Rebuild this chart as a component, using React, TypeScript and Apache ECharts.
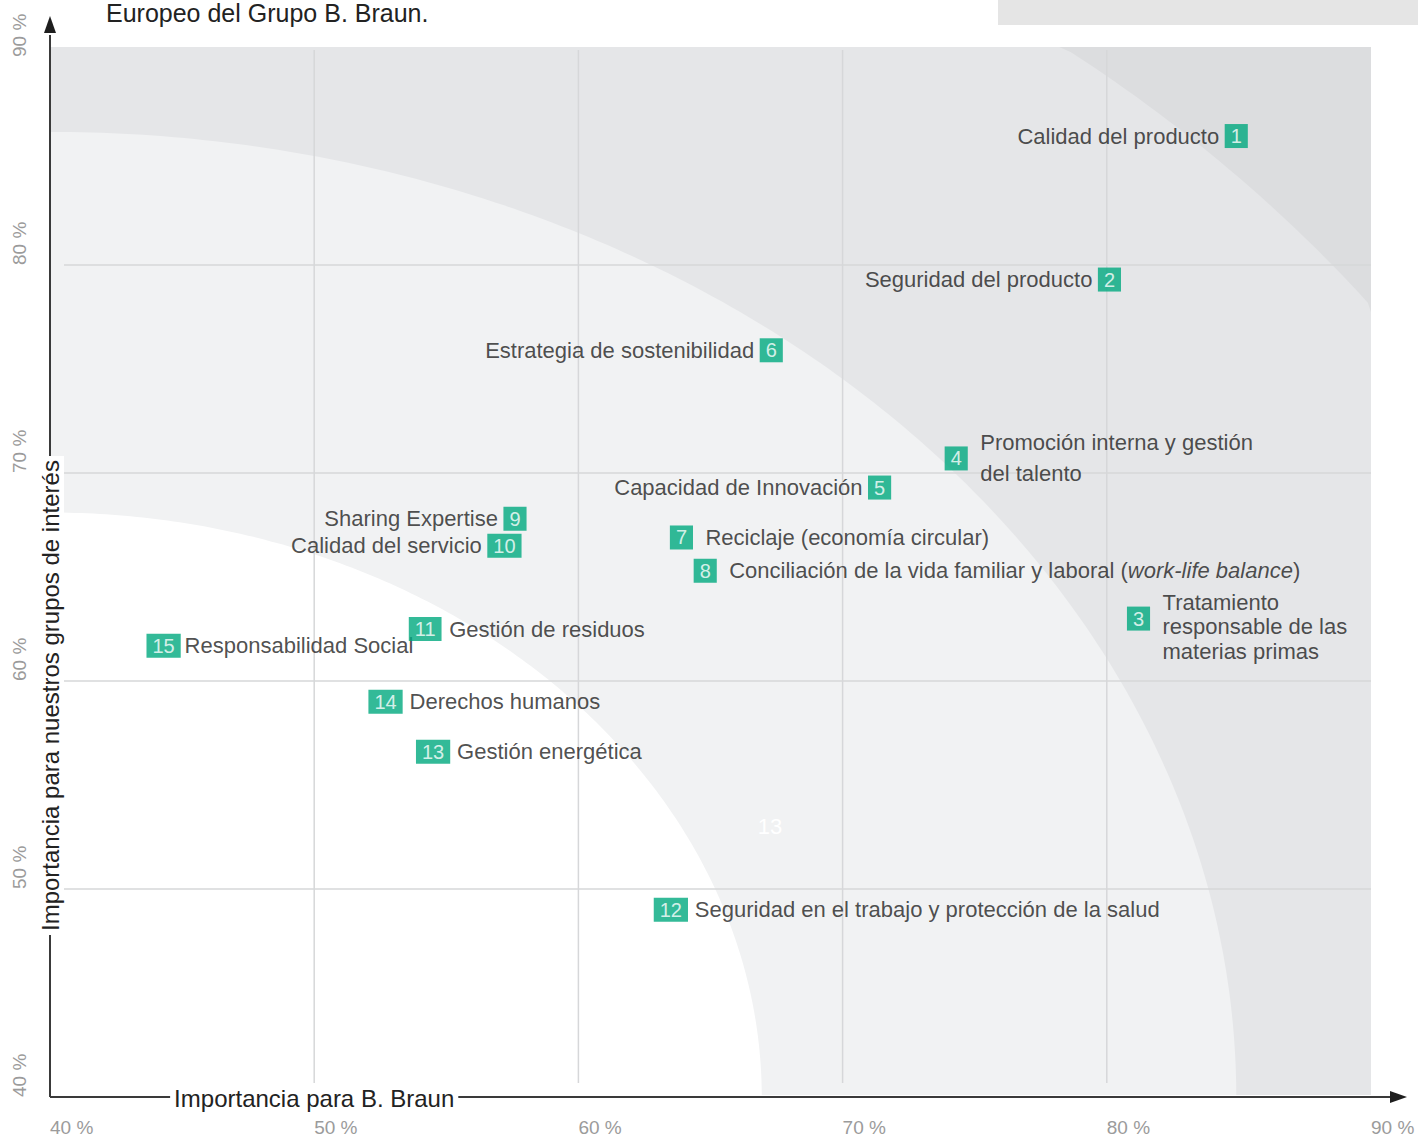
import React, { useEffect, useRef } from 'react';
import * as echarts from 'echarts';

const FONT = '"Liberation Sans", Arial, sans-serif';

// ---- data ----
const ids = ['1', '2', '3', '4', '5', '6', '7', '8', '9', '10', '11', '12', '13', '14', '15'];
const topics = [
  'Calidad del producto',
  'Seguridad del producto',
  'Tratamiento\nresponsable de las\nmaterias primas',
  'Promoción interna y gestión\ndel talento',
  'Capacidad de Innovación',
  'Estrategia de sostenibilidad',
  'Reciclaje (economía circular)',
  'Conciliación de la vida familiar y laboral ({i|work-life balance})',
  'Sharing Expertise',
  'Calidad del servicio',
  'Gestión de residuos',
  'Seguridad en el trabajo y protección de la salud',
  'Gestión energética',
  'Derechos humanos',
  'Responsabilidad Social',
];
const importanceBBraun = [84.9, 80.1, 81.2, 74.3, 71.4, 67.3, 63.9, 64.8, 57.6, 57.2, 54.2, 63.5, 54.5, 52.7, 44.3];
const importanceStakeholders = [86.2, 79.3, 63.0, 70.7, 69.3, 75.9, 66.9, 65.3, 67.8, 66.5, 62.5, 49.0, 56.6, 59.0, 61.7];
const labelSide = ['left', 'left', 'right', 'right', 'left', 'left', 'right', 'right', 'left', 'left', 'right', 'right', 'right', 'right', 'right'];

const X_MIN = 40, X_MAX = 90, Y_MIN = 40, Y_MAX = 90, STEP = 10;
const gridValues = [50, 60, 70, 80];
// background quarter-ellipse bands (radius in axis units, from the 40 %/40 % corner)
const bandRadiusX = [62.05, 44.9, 26.94];
const bandRadiusY = [64.2, 46.4, 28.1];
const bandColors = ['#e5e6e8', '#f1f2f3', '#ffffff'];
const ghostLabel = { x: 67.25, y: 53.0, text: '13' };

const xTitle = 'Importancia para B. Braun';
const yTitle = 'Importancia para nuestros grupos de interés';
const headerText = 'Europeo del Grupo B. Braun.';

const GREEN = '#00a97e';
const TEXT = '#222222';

function buildOption() {
  const numberData = ids.map((id, i) => ({ value: [importanceBBraun[i], importanceStakeholders[i]], name: id }));
  const textData = ids.map((id, i) => {
    const halfBox = (id.length * 11.1 + 12) / 2;
    const side = labelSide[i];
    const label: any = {
      position: side,
      distance: side === 'left' ? halfBox + 5.5 : 24,
      align: side === 'left' ? 'right' : 'left',
    };
    if (id === '3') { label.lineHeight = 24.5; label.offset = [0, 8]; }
    if (id === '4') { label.lineHeight = 31; }
    if (id === '15') { label.distance = 21; }
    return { value: [importanceBBraun[i], importanceStakeholders[i]], name: topics[i], label };
  });

  return {
    animation: false,
    grid: { left: 50, right: 47, top: 57, bottom: 40 },
    xAxis: {
      type: 'value', min: X_MIN, max: X_MAX, interval: STEP,
      axisLine: { show: false }, axisTick: { show: false }, splitLine: { show: false },
      axisLabel: {
        formatter: '{value} %', color: '#9b9b9b', fontSize: 19, fontFamily: FONT,
        align: 'left', margin: 21,
      },
    },
    yAxis: {
      type: 'value', min: Y_MIN, max: Y_MAX, interval: STEP,
      axisLine: { show: false }, axisTick: { show: false }, splitLine: { show: false },
      axisLabel: {
        formatter: '{value} %', color: '#9b9b9b', fontSize: 19, fontFamily: FONT,
        rotate: 90, align: 'left', verticalAlign: 'middle', margin: 31,
      },
    },
    graphic: [
      { type: 'rect', left: 998, top: 0, shape: { width: 420, height: 25 }, style: { fill: '#e5e5e5' }, z: 0 },
      {
        type: 'text', left: 106, top: 0,
        style: { text: headerText, fill: TEXT, fontSize: 25, fontFamily: FONT },
      },
    ],
    series: [
      {
        type: 'custom',
        coordinateSystem: 'cartesian2d',
        clip: false,
        silent: true,
        z: 1,
        data: [[X_MIN, Y_MIN]],
        renderItem: (params: any, api: any) => {
          const o = api.coord([X_MIN, Y_MIN]);
          const tr = api.coord([X_MAX, Y_MAX]);
          const left = o[0], bottom = o[1], right = tr[0], top = tr[1];
          const boxTop = top - 10, boxBottom = bottom - 2;
          const clampPt = (p: number[]) => [
            Math.min(Math.max(p[0], left), right),
            Math.max(Math.min(p[1], boxBottom), boxTop),
          ];
          const children: any[] = [];
          children.push({
            type: 'rect',
            shape: { x: left, y: boxTop, width: right - left, height: boxBottom - boxTop },
            style: { fill: '#dcdddf' },
          });
          bandRadiusX.forEach((rx, k) => {
            const ry = bandRadiusY[k];
            const pts: number[][] = [clampPt(o)];
            for (let d = 0; d <= 180; d++) {
              const t = (d / 2) * Math.PI / 180;
              pts.push(clampPt(api.coord([X_MIN + rx * Math.cos(t), Y_MIN + ry * Math.sin(t)])));
            }
            children.push({ type: 'polygon', shape: { points: pts }, style: { fill: bandColors[k] } });
          });
          gridValues.forEach((v) => {
            const x = api.coord([v, Y_MIN])[0];
            children.push({
              type: 'line',
              shape: { x1: x, y1: top - 7, x2: x, y2: bottom - 14 },
              style: { stroke: '#d6d7d9', lineWidth: 1.5 },
            });
            const y = api.coord([X_MIN, v])[1];
            children.push({
              type: 'line',
              shape: { x1: left + 14, y1: y, x2: right, y2: y },
              style: { stroke: '#d6d7d9', lineWidth: 1.5 },
            });
          });
          const g = api.coord([ghostLabel.x, ghostLabel.y]);
          children.push({
            type: 'text', x: g[0], y: g[1],
            style: { text: ghostLabel.text, fill: '#ffffff', fontSize: 22, fontFamily: FONT, align: 'center', verticalAlign: 'middle' },
          });
          // axes
          children.push({
            type: 'line', shape: { x1: left, y1: bottom, x2: right + 22, y2: bottom },
            style: { stroke: '#3a3a3a', lineWidth: 2 },
          });
          children.push({
            type: 'polygon', shape: { points: [[right + 19, bottom - 6], [right + 36, bottom], [right + 19, bottom + 6]] },
            style: { fill: '#1e1e1e' },
          });
          children.push({
            type: 'line', shape: { x1: left, y1: bottom, x2: left, y2: top - 22 },
            style: { stroke: '#3a3a3a', lineWidth: 2 },
          });
          children.push({
            type: 'polygon', shape: { points: [[left - 6, top - 24], [left, top - 41], [left + 6, top - 24]] },
            style: { fill: '#1e1e1e' },
          });
          const xt = api.coord([50, Y_MIN]);
          children.push({
            type: 'text', x: xt[0], y: bottom + 1,
            style: {
              text: xTitle, fill: TEXT, fontSize: 24, fontFamily: FONT, align: 'center', verticalAlign: 'middle',
              backgroundColor: '#ffffff', padding: [2, 4],
            },
          });
          const yt = api.coord([X_MIN, 59.3]);
          children.push({
            type: 'text', x: left, y: yt[1], rotation: Math.PI / 2,
            style: {
              text: yTitle, fill: TEXT, fontSize: 24, fontFamily: FONT, align: 'center', verticalAlign: 'middle',
              backgroundColor: '#ffffff', padding: [2, 4],
            },
          });
          return { type: 'group', children };
        },
      },
      {
        type: 'scatter',
        name: 'temas',
        z: 3,
        symbolSize: 0,
        data: textData,
        label: {
          show: true,
          formatter: (p: any) => p.name,
          color: TEXT, fontSize: 22, fontFamily: FONT, verticalAlign: 'middle',
          rich: { i: { fontStyle: 'italic', color: TEXT, fontSize: 22, fontFamily: FONT } },
        },
        emphasis: { disabled: true },
      },
      {
        type: 'scatter',
        name: 'números',
        z: 4,
        symbolSize: 0,
        data: numberData,
        label: {
          show: true, position: 'inside',
          formatter: (p: any) => p.name,
          color: '#ffffff', fontSize: 20, lineHeight: 20, fontFamily: FONT,
          backgroundColor: GREEN, padding: [2, 6, 2, 6],
        },
        emphasis: { disabled: true },
      },
    ],
  };
}

export default function App() {
  const ref = useRef<HTMLDivElement>(null);
  useEffect(() => {
    const chart = echarts.init(ref.current!, null, { renderer: 'svg' });
    chart.setOption(buildOption() as any);
    return () => chart.dispose();
  }, []);
  return (
    <div
      ref={ref}
      style={{ position: 'absolute', left: 0, top: 0, width: 1418, height: 1137, background: '#ffffff' }}
    />
  );
}
